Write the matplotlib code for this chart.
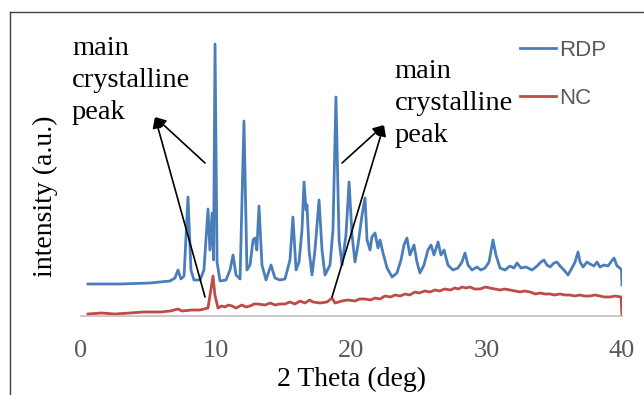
import numpy as np
import matplotlib
matplotlib.use('Agg')
from matplotlib import pyplot as plt
from matplotlib.lines import Line2D

# RDP trace (2 theta in deg, intensity in a.u.)
rdp_theta = [0.52, 2.88, 5.1, 6.58, 6.95, 7.17, 7.39, 7.62, 7.91, 8.13, 8.35, 8.8, 9.09, 9.39, 9.53,
             9.69, 9.8, 9.91, 10.06, 10.28, 10.72, 11.02, 11.24, 11.46, 11.76, 12.05, 12.27, 12.5,
             12.72, 12.86, 13.0, 13.16, 13.38, 13.68, 14.05, 14.34, 14.7, 15.08, 15.45, 15.67, 15.9,
             16.12, 16.34, 16.49, 16.64, 16.71, 16.86, 17.08, 17.3, 17.6, 17.82, 18.04, 18.41, 18.63,
             18.85, 19.08, 19.3, 19.59, 19.82, 20.04, 20.26, 20.48, 20.78, 21.0, 21.15, 21.37, 21.51,
             21.74, 21.96, 22.11, 22.33, 22.63, 23.0, 23.36, 23.66, 23.88, 24.1, 24.32, 24.62, 24.84,
             25.06, 25.36, 25.65, 25.88, 26.1, 26.4, 26.62, 26.84, 27.13, 27.5, 27.87, 28.17, 28.39,
             28.61, 28.91, 29.28, 29.57, 29.87, 30.17, 30.46, 30.68, 30.98, 31.35, 31.72, 32.01, 32.24,
             32.53, 32.9, 33.35, 33.72, 34.01, 34.23, 34.45, 34.68, 34.97, 35.19, 35.42, 35.71, 36.01,
             36.3, 36.53, 36.75, 36.9, 37.12, 37.41, 37.63, 37.93, 38.15, 38.37, 38.67, 38.96, 39.19,
             39.41, 39.63, 39.85, 39.96, 40.0]
rdp_int = [32, 32, 33, 35, 38, 46, 37, 40, 119, 46, 36, 36, 46, 107, 66,
           103, 56, 272, 54, 35, 36, 46, 61, 41, 37, 195, 46, 51,
           76, 78, 66, 110, 51, 36, 51, 38, 36, 37, 56, 99, 46,
           54, 86, 134, 106, 111, 66, 41, 66, 116, 66, 41, 51, 86,
           219, 76, 51, 81, 134, 81, 54, 71, 101, 118, 76, 66, 79,
           83, 68, 76, 63, 48, 39, 43, 56, 71, 78, 61, 71, 54,
           43, 51, 66, 71, 61, 74, 61, 66, 51, 46, 48, 54, 63,
           51, 46, 49, 46, 48, 54, 76, 61, 48, 46, 50, 48, 53,
           48, 49, 46, 50, 54, 56, 51, 49, 53, 54, 50, 46, 41,
           48, 54, 64, 54, 49, 54, 52, 50, 54, 49, 51, 50, 54,
           58, 50, 48, 46, 31]

# NC trace
nc_theta = [0.52, 1.5, 2.5, 3.6, 4.6, 5.85, 6.6, 7.17, 7.47, 8.2, 8.8, 9.39, 9.6, 9.76, 9.9, 10.13,
            10.4, 10.65, 10.9, 11.17, 11.46, 11.9, 12.2, 12.5, 12.8, 13.09, 13.6, 14.0, 14.34, 14.7,
            15.08, 15.45, 15.82, 16.19, 16.56, 16.9, 17.15, 17.67, 18.19, 18.56, 18.78, 19.3, 19.74,
            20.26, 20.6, 21.0, 21.4, 21.74, 22.1, 22.48, 22.9, 23.22, 23.6, 23.96, 24.3, 24.69, 25.0,
            25.43, 25.8, 26.17, 26.5, 26.91, 27.3, 27.65, 27.9, 28.17, 28.45, 28.76, 29.1, 29.5, 29.9,
            30.24, 30.6, 30.98, 31.3, 31.72, 32.1, 32.46, 32.8, 33.2, 33.6, 33.94, 34.3, 34.68, 35.0,
            35.42, 35.8, 36.15, 36.5, 36.89, 37.2, 37.63, 38.0, 38.37, 38.7, 39.11, 39.5, 39.93, 40.0]
nc_int = [2, 3, 2, 3, 4, 4, 5, 7, 5, 6, 6, 8, 26, 40, 21, 8,
          10, 9, 11, 10, 8, 11, 9, 10, 12, 12, 11, 13, 11, 12,
          12, 14, 12, 15, 13, 16, 14, 13, 14, 18, 13, 15, 16,
          15, 17, 17, 16, 18, 17, 20, 19, 21, 20, 22, 21, 24, 23,
          25, 24, 26, 25, 27, 26, 28, 27, 29, 28, 29, 27, 27, 29,
          28, 27, 26, 27, 26, 25, 24, 25, 24, 22, 23, 22, 22, 21,
          22, 21, 21, 20, 21, 20, 20, 21, 20, 19, 19, 20, 19, 0]

x_ticks = [0, 10, 20, 30, 40]

blue = '#4a7ebb'
red = '#be4b48'
serif = ['Liberation Serif', 'DejaVu Serif']

fig = plt.figure(figsize=(6.44, 3.95), dpi=100)
W, H = 644.0, 395.0
ax = fig.add_axes([81 / W, 79 / H, 541 / W, 286 / H])

ax.plot(rdp_theta, rdp_int, color=blue, lw=2.0, label='RDP', solid_joinstyle='round')
ax.plot(nc_theta, nc_int, color=red, lw=2.0, label='NC', solid_joinstyle='round')

ax.set_xlim(0, 40)
ax.set_ylim(0, 286)
ax.set_xticks(x_ticks)
ax.set_yticks([])
ax.tick_params(axis='x', length=0, pad=17, labelsize=19, labelcolor='#595959')
for lab in ax.get_xticklabels():
    lab.set_family(serif)
for s in ['top', 'right', 'left']:
    ax.spines[s].set_visible(False)
ax.spines['bottom'].set_color('#bfbfbf')
ax.spines['bottom'].set_linewidth(1.2)

ax.set_xlabel('2 Theta (deg)', fontsize=20, family=serif, labelpad=4)
fig.text(45 / W, 1 - 196 / H, 'intensity (a.u.)', rotation=90, fontsize=20,
         family=serif, ha='center', va='center')

# annotations
ax.text(-0.67, 280, 'main\ncrystalline\npeak', fontsize=20.5, family=serif,
        va='top', ha='left', clip_on=False, linespacing=1.38)
ax.text(23.2, 257, 'main\ncrystalline\npeak', fontsize=20.5, family=serif,
        va='top', ha='left', clip_on=False, linespacing=1.38)
arrow = dict(arrowstyle='-|>', color='black', lw=1.2, mutation_scale=16, shrinkA=0, shrinkB=0)
for tail in [(9.17, 153), (9.17, 19)]:
    ax.annotate('', xy=(5.47, 199), xytext=tail, arrowprops=arrow)
for tail in [(19.3, 153), (18.56, 19)]:
    ax.annotate('', xy=(22.4, 191), xytext=tail, arrowprops=arrow)

leg = ax.legend(loc='upper left', bbox_to_anchor=(500 / W, 1 - 20 / H),
                bbox_transform=fig.transFigure, frameon=False, fontsize=16,
                handlelength=1.62, handletextpad=0.14, labelspacing=1.2)
for t in leg.get_texts():
    t.set_color('#595959')
    t.set_family(['Liberation Sans', 'DejaVu Sans'])

# chart-area border (left and top edges visible)
fig.add_artist(Line2D([10 / W, 10 / W], [0, 1 - 12 / H], color='#404040', lw=1.0))
fig.add_artist(Line2D([10 / W, 1], [1 - 12 / H, 1 - 12 / H], color='#404040', lw=1.0))

fig.savefig('out.png', dpi=100)
